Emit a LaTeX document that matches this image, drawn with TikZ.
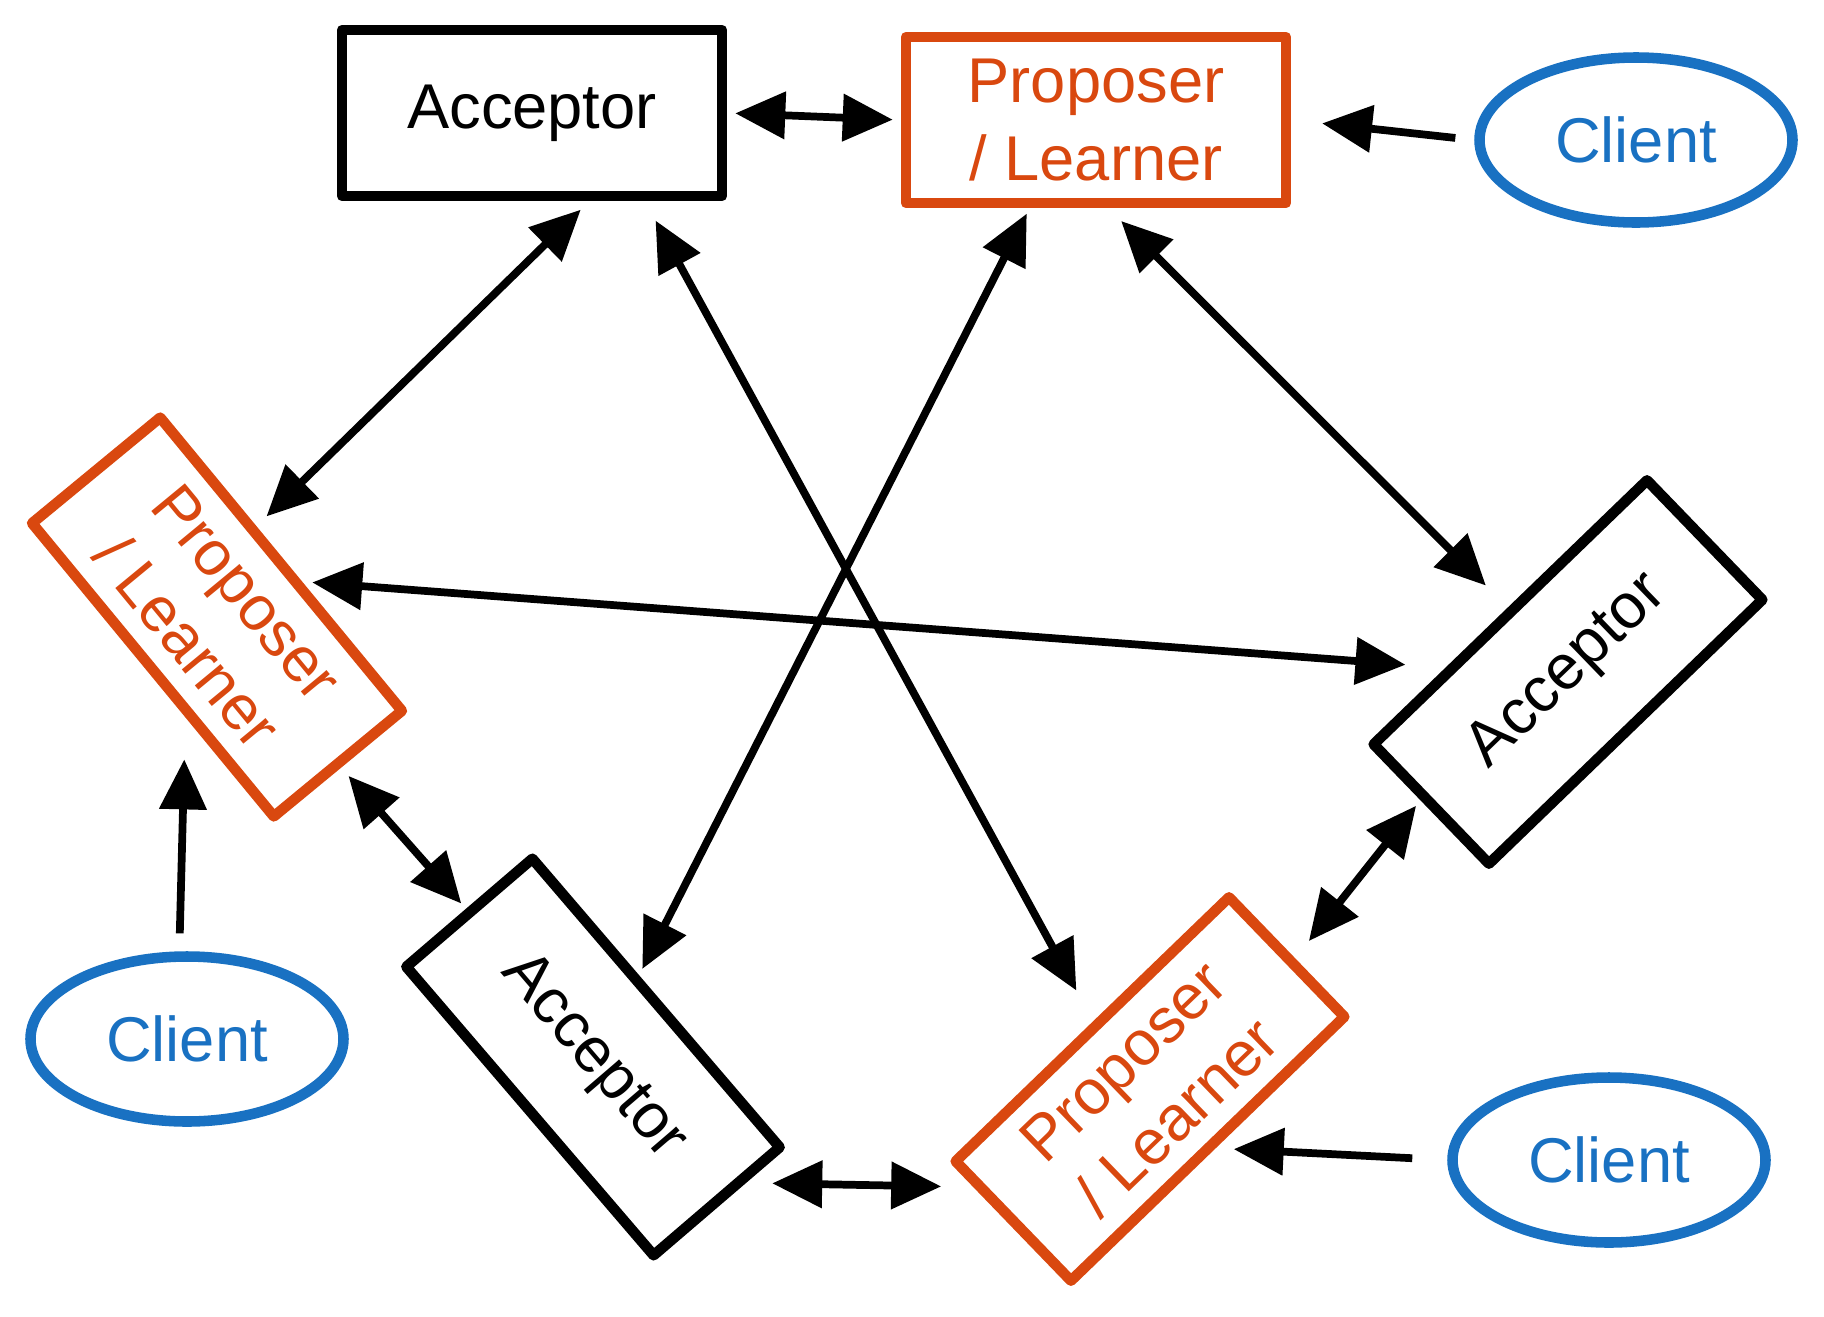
\documentclass[tikz,border=0pt]{standalone}
\usepackage{fontspec}
\setmainfont{Liberation Sans}
\usetikzlibrary{arrows.meta,shapes.geometric}
\definecolor{pxorange}{HTML}{D9480F}
\definecolor{pxblue}{HTML}{1971C2}

\begin{document}
\begin{tikzpicture}[y=-1cm,
  box/.style={draw=black, line width=3pt, line join=round, minimum width=3.8cm, minimum height=1.66cm, inner sep=0pt, align=center, font=\fontsize{18}{22}\selectfont},
  acceptor/.style={box},
  proposer/.style={box, draw=pxorange, text=pxorange},
  client/.style={ellipse, draw=pxblue, text=pxblue, line width=3pt, minimum width=3.13cm, minimum height=1.65cm, inner sep=0pt, font=\fontsize{18}{22}\selectfont},
  link/.style={line width=2.2pt, -{Triangle[length=5mm,width=4.6mm]}},
  twoway/.style={line width=2.2pt, {Triangle[length=5mm,width=4.6mm]}-{Triangle[length=5mm,width=4.6mm]}}]
\useasboundingbox (0,0) rectangle (18.24,13.16);

\node[acceptor] (acc1) at (5.32,1.13) {Acceptor};
\node[proposer] (pl1) at (10.96,1.20) {Proposer\\/ Learner};
\node[proposer, rotate=-50.5] (pl2) at (2.17,6.17) {Proposer\\/ Learner};
\node[acceptor, rotate=44] (acc2) at (15.68,6.72) {Acceptor};
\node[acceptor, rotate=-49.4] (acc3) at (5.93,10.57) {Acceptor};
\node[proposer, rotate=44] (pl3) at (11.50,10.89) {Proposer\\/ Learner};
\node[client] (cl1) at (16.36,1.40) {Client};
\node[client] (cl2) at (1.87,10.39) {Client};
\node[client] (cl3) at (16.09,11.60) {Client};

\draw[twoway, shorten <=0.08cm, shorten >=0.08cm] (acc1.east) -- (pl1.west);
\draw[link, shorten <=0.19cm, shorten >=0.31cm] (cl1.west) -- (pl1.east);
\draw[twoway, shorten <=0.12cm, shorten >=0.14cm] (acc1.-57) -- (pl2.117);
\draw[twoway, shorten <=0.22cm, shorten >=0.35cm] (acc1.-38) -- (pl3.86);
\draw[twoway, shorten <=0.06cm, shorten >=0.07cm] (pl1.233) -- (acc3.110);
\draw[twoway, shorten <=0.18cm, shorten >=0.31cm] (pl1.-82) -- (acc2.89);
\draw[twoway, shorten <=0.10cm, shorten >=0.40cm] (pl2.73) -- (acc2.134);
\draw[link, shorten <=0.18cm, shorten >=0.42cm] (cl2.95) -- (pl2.-57);
\draw[twoway, shorten <=0.11cm, shorten >=0.07cm] (pl2.east) -- (acc3.west);
\draw[twoway, shorten <=0.26cm, shorten >=0.32cm] (acc3.10) -- (pl3.165);
\draw[twoway, shorten <=0.22cm, shorten >=0.07cm] (pl3.-2) -- (acc2.177);
\draw[link, shorten <=0.35cm, shorten >=0.18cm] (cl3.west) -- (pl3.-86);

\end{tikzpicture}
\end{document}
